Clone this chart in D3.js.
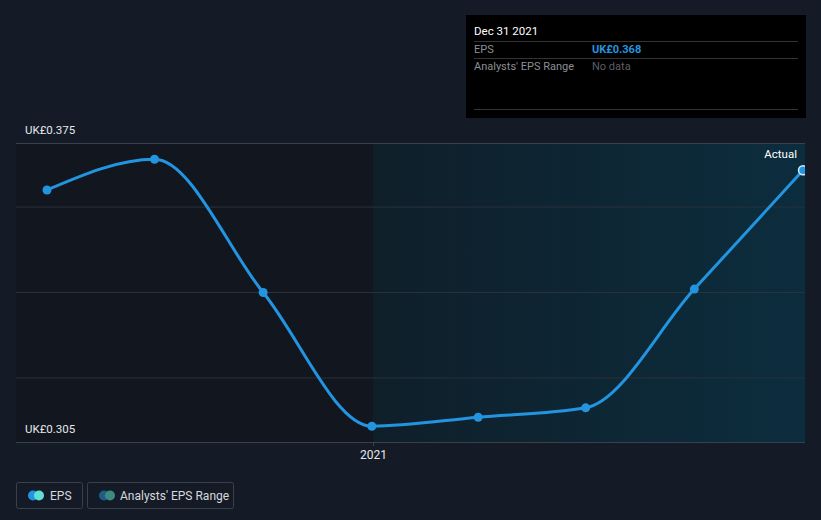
<!DOCTYPE html>
<html><head><meta charset="utf-8">
<script src="https://cdn.jsdelivr.net/npm/d3@7"></script>
<style>
html,body{margin:0;padding:0;background:#151b26;}
svg{display:block;font-family:Roboto,"Open Sans",sans-serif;}
</style></head>
<body>
<svg id="c" width="821" height="520"></svg>
<script>
const dates = ["2020-03-31","2020-06-30","2020-09-30","2020-12-31","2021-03-31","2021-06-30","2021-09-30","2021-12-31"];
const epsValues = [0.364, 0.3712, 0.340, 0.3087, 0.3108, 0.3130, 0.3408, 0.3686];
const gridValues = [0.32, 0.34, 0.36];
const yLabels = ["UK£0.375", "UK£0.305"];
const xTickLabels = ["2021"];
const yDomain = [0.305, 0.375];

const parse = d3.timeParse("%Y-%m-%d");
const data = dates.map((d,i)=>({date: parse(d), v: epsValues[i]}));

const svg = d3.select("#c");
const L = 16, R = 805, T = 143, B = 442;
const x = d3.scaleTime().domain([parse("2020-03-31"), parse("2021-12-31")]).range([47, 803]);
const y = d3.scaleLinear().domain(yDomain).range([B, T]);
const split = Math.round(x(parse("2021-01-01")));

const defs = svg.append("defs");
const grad = defs.append("linearGradient").attr("id","fg").attr("x1","0").attr("x2","1").attr("y1","0").attr("y2","0");
grad.append("stop").attr("offset","0").attr("stop-color","#0f1f2a");
grad.append("stop").attr("offset","1").attr("stop-color","#0c2d3e");
defs.append("clipPath").attr("id","clip").append("rect").attr("x",L).attr("y",T-10).attr("width",R-L).attr("height",B-T+20);

// past region
svg.append("rect").attr("x",L).attr("y",T).attr("width",split-L).attr("height",B-T).attr("fill","#12171f");
// forecast region
svg.append("rect").attr("x",split).attr("y",T).attr("width",R-split).attr("height",B-T).attr("fill","url(#fg)");

// grid lines
svg.append("g").selectAll("line").data(gridValues).join("line")
  .attr("x1",L).attr("x2",R).attr("y1",d=>y(d)).attr("y2",d=>y(d))
  .attr("stroke","#2a313b").attr("stroke-width",1);
// top & bottom lines
svg.append("line").attr("x1",L).attr("x2",R).attr("y1",y(yDomain[1])+0.5).attr("y2",y(yDomain[1])+0.5).attr("stroke","#3b414b");
svg.append("line").attr("x1",L).attr("x2",R).attr("y1",y(yDomain[0])+0.5).attr("y2",y(yDomain[0])+0.5).attr("stroke","#3b414b");

// x axis tick
const xAxis = d3.axisBottom(x).tickValues([parse("2021-01-01")]).tickFormat((d,i)=>xTickLabels[i]).tickSize(4).tickPadding(4);
const gx = svg.append("g").attr("transform",`translate(0,${B})`).call(xAxis);
gx.select(".domain").remove();
gx.selectAll(".tick line").attr("stroke","#3b414b");
gx.selectAll(".tick text").attr("fill","#e6e8eb").attr("font-size",12).attr("font-family","Roboto, sans-serif");

// y labels
svg.append("g").selectAll("text").data(yDomain.slice().reverse()).join("text")
  .attr("x",25).attr("y",d=>y(d)-9).attr("fill","#e6e8eb").attr("font-size",11.5)
  .text((d,i)=>yLabels[i]);

// line
const g = svg.append("g").attr("clip-path","url(#clip)");
const line = d3.line().x(d=>x(d.date)).y(d=>y(d.v)).curve(d3.curveMonotoneX);
g.append("path").datum(data).attr("d",line).attr("fill","none").attr("stroke","#2394df").attr("stroke-width",3);
g.selectAll("circle").data(data).join("circle")
  .attr("cx",d=>x(d.date)).attr("cy",d=>y(d.v)).attr("r",4.5)
  .attr("fill","#2394df")
  .attr("stroke",(d,i)=>i===data.length-1?"#d7ecfb":"none").attr("stroke-width",1.5);

// Actual label
svg.append("text").attr("x",797).attr("y",158).attr("text-anchor","end").attr("fill","#ffffff").attr("font-size",11.5).text("Actual");

// tooltip
const tt = svg.append("g");
tt.append("rect").attr("x",466).attr("y",15).attr("width",340).attr("height",103).attr("fill","#000");
tt.append("text").attr("x",474).attr("y",35).attr("fill","#fff").attr("font-size",11.5).text("Dec 31 2021");
[41,58,109].forEach(yy=>tt.append("line").attr("x1",474).attr("x2",798).attr("y1",yy+0.5).attr("y2",yy+0.5).attr("stroke","#333"));
tt.append("text").attr("x",474).attr("y",53).attr("fill","#8b8f95").attr("font-size",11).text("EPS");
tt.append("text").attr("x",592).attr("y",53).attr("fill","#2394df").attr("font-size",11).attr("font-weight","bold").text("UK£0.368");
tt.append("text").attr("x",474).attr("y",70).attr("fill","#8b8f95").attr("font-size",11).text("Analysts' EPS Range");
tt.append("text").attr("x",592).attr("y",70).attr("fill","#5b5f65").attr("font-size",11).text("No data");

// legend
const leg = svg.append("g");
const items = [
  {x:16, w:66, label:"EPS", c1:"#2394df", c2:"#5fe0d6", tx:50},
  {x:87, w:146, label:"Analysts' EPS Range", c1:"#1f5c86", c2:"#3f8a80", tx:120}
];
items.forEach(it=>{
  leg.append("rect").attr("x",it.x+0.5).attr("y",482.5).attr("width",it.w).attr("height",26).attr("rx",2)
    .attr("fill","none").attr("stroke","#3b414b");
  leg.append("circle").attr("cx",it.x+17).attr("cy",495.5).attr("r",5).attr("fill",it.c1);
  leg.append("circle").attr("cx",it.x+23).attr("cy",495.5).attr("r",5).attr("fill",it.c2);
  leg.append("text").attr("x",it.tx).attr("y",499.5).attr("fill","#d6d9dd").attr("font-size",12).text(it.label);
});
</script>
</body></html>
